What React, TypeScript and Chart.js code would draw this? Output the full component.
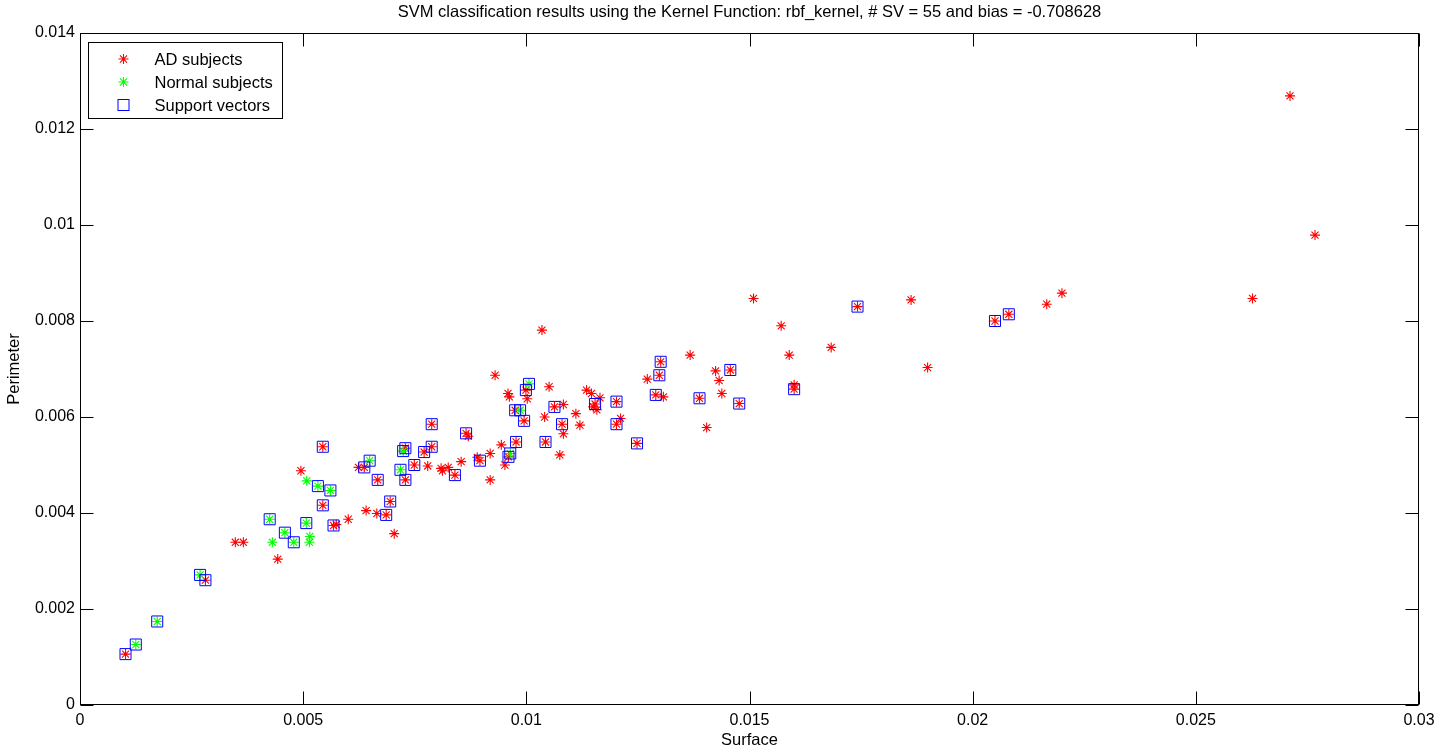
import React, { useEffect, useRef } from 'react';
import { Chart, registerables } from 'chart.js';

Chart.register(...registerables);

const FONT = "'Liberation Sans', Arial, Helvetica, sans-serif";
const TITLE = 'SVM classification results using the Kernel Function: rbf_kernel, # SV = 55 and bias = -0.708628';
const X_LABEL = 'Surface';
const Y_LABEL = 'Perimeter';
const LEGEND_LABELS = ['AD subjects', 'Normal subjects', 'Support vectors'];

const xTicks = [0, 0.005, 0.01, 0.015, 0.02, 0.025, 0.03];
const yTicks = [0, 0.002, 0.004, 0.006, 0.008, 0.01, 0.012, 0.014];

// AD subjects (red asterisks)
const adX = [
  0.00102, 0.00281, 0.00348, 0.00366, 0.00443, 0.00544, 0.00568, 0.00574, 0.00601, 0.00641,
  0.00665, 0.00544, 0.00495, 0.00695, 0.00686, 0.00704, 0.00667, 0.00624, 0.00637, 0.00729,
  0.00729, 0.00749, 0.00779, 0.00771, 0.00788, 0.00788, 0.00809, 0.00825, 0.00812, 0.00840,
  0.00854, 0.00865, 0.00870, 0.00896, 0.00890, 0.00919, 0.00919, 0.01035, 0.00930, 0.00959,
  0.00962, 0.00999, 0.01002, 0.01051, 0.00975, 0.00995, 0.01041, 0.01063, 0.01083, 0.01080,
  0.01083, 0.01111, 0.01120, 0.01075, 0.01043, 0.00977, 0.00960, 0.00944, 0.00952, 0.01135,
  0.01146, 0.01165, 0.01154, 0.01150, 0.01158, 0.01202, 0.01202, 0.01211, 0.01248, 0.01290,
  0.01307, 0.01271, 0.01298, 0.01301, 0.01367, 0.01388, 0.01509, 0.01742, 0.01571, 0.01683,
  0.01589, 0.01424, 0.01457, 0.01432, 0.01438, 0.01477, 0.01404, 0.01600, 0.01600, 0.01862,
  0.01899, 0.02050, 0.02081, 0.02166, 0.02200, 0.02711, 0.02767, 0.02627,
];
const adY = [
  0.00106, 0.00260, 0.00339, 0.00339, 0.00304, 0.00416, 0.00374, 0.00376, 0.00387, 0.00405,
  0.00399, 0.00538, 0.00488, 0.00424, 0.00396, 0.00357, 0.00469, 0.00495, 0.00495, 0.00535,
  0.00469, 0.00500, 0.00498, 0.00527, 0.00538, 0.00585, 0.00493, 0.00495, 0.00488, 0.00479,
  0.00507, 0.00566, 0.00560, 0.00509, 0.00516, 0.00524, 0.00469, 0.00781, 0.00687, 0.00649,
  0.00642, 0.00656, 0.00638, 0.00663, 0.00614, 0.00592, 0.00600, 0.00621, 0.00626, 0.00585,
  0.00565, 0.00607, 0.00583, 0.00521, 0.00548, 0.00548, 0.00517, 0.00542, 0.00500, 0.00656,
  0.00649, 0.00640, 0.00627, 0.00621, 0.00615, 0.00632, 0.00585, 0.00597, 0.00545, 0.00646,
  0.00642, 0.00679, 0.00687, 0.00715, 0.00729, 0.00639, 0.00847, 0.00830, 0.00790, 0.00745,
  0.00729, 0.00696, 0.00698, 0.00676, 0.00649, 0.00628, 0.00578, 0.00658, 0.00667, 0.00844,
  0.00703, 0.00800, 0.00814, 0.00835, 0.00858, 0.01269, 0.00979, 0.00847,
];
// 1 = this AD subject is a support vector
const adIsSV = [
  1, 1, 0, 0, 0, 1, 1, 0, 0, 0,
  0, 1, 0, 1, 1, 0, 1, 0, 1, 1,
  1, 1, 0, 1, 1, 1, 0, 0, 0, 1,
  0, 1, 0, 1, 0, 0, 0, 0, 0, 0,
  0, 1, 0, 0, 1, 1, 0, 1, 0, 1,
  0, 0, 0, 0, 1, 1, 1, 0, 0, 0,
  0, 0, 1, 0, 0, 1, 1, 0, 1, 1,
  0, 0, 1, 1, 0, 1, 0, 1, 0, 0,
  0, 0, 1, 0, 0, 1, 0, 1, 0, 0,
  0, 1, 1, 0, 0, 0, 0, 0,
];

// Normal subjects (green asterisks)
const normalX = [
  0.00125, 0.00173, 0.00269, 0.00431, 0.00425, 0.00459, 0.00479, 0.00507, 0.00515, 0.00514,
  0.00533, 0.00561, 0.00508, 0.00649, 0.00724, 0.00718, 0.01006, 0.00986, 0.00964,
];
const normalY = [
  0.00126, 0.00174, 0.00271, 0.00339, 0.00387, 0.00359, 0.00339, 0.00379, 0.00351, 0.00339,
  0.00456, 0.00447, 0.00467, 0.00509, 0.00529, 0.00490, 0.00669, 0.00614, 0.00524,
];
const normalIsSV = [
  1, 1, 1, 0, 1, 1, 1, 1, 0, 0,
  1, 1, 0, 1, 1, 1, 1, 1, 1,
];

const RED = '#ff0000';
const GREEN = '#00ff00';
const BLUE = '#0000ff';
const STAR_R = 5;
const TEXT_SIZE = 16.5;

const fmt = (v: number) => String(parseFloat(Number(v).toFixed(6)));

const axesBoxPlugin = {
  id: 'axesBox',
  beforeDatasetsDraw(chart: any) {
    const { ctx, chartArea: a, scales } = chart;
    ctx.save();
    ctx.strokeStyle = '#000';
    ctx.lineWidth = 1;
    const L = Math.round(a.left) + 0.5;
    const R = Math.round(a.right) - 0.5;
    const T = Math.round(a.top) + 0.5;
    const B = Math.round(a.bottom) - 0.5;
    const len = 13;
    ctx.beginPath();
    scales.x.ticks.forEach((t: any) => {
      const px = Math.round(scales.x.getPixelForValue(t.value)) + 0.5;
      ctx.moveTo(px, B);
      ctx.lineTo(px, B - len);
      ctx.moveTo(px, T);
      ctx.lineTo(px, T + len);
    });
    scales.y.ticks.forEach((t: any) => {
      const py = Math.round(scales.y.getPixelForValue(t.value)) + 0.5;
      ctx.moveTo(L, py);
      ctx.lineTo(L + len, py);
      ctx.moveTo(R, py);
      ctx.lineTo(R - len, py);
    });
    ctx.stroke();
    ctx.strokeRect(L, T, R - L, B - T);
    ctx.restore();
  },
};

function drawStar(ctx: CanvasRenderingContext2D, x: number, y: number, r: number, color: string) {
  const d = r * Math.SQRT1_2;
  ctx.save();
  ctx.strokeStyle = color;
  ctx.lineWidth = 1.1;
  ctx.beginPath();
  ctx.moveTo(x - r, y);
  ctx.lineTo(x + r, y);
  ctx.moveTo(x, y - r);
  ctx.lineTo(x, y + r);
  ctx.moveTo(x - d, y - d);
  ctx.lineTo(x + d, y + d);
  ctx.moveTo(x - d, y + d);
  ctx.lineTo(x + d, y - d);
  ctx.stroke();
  ctx.restore();
}

const legendPlugin = {
  id: 'matlabLegend',
  afterDraw(chart: any) {
    const { ctx, chartArea: a } = chart;
    const bx = Math.round(a.left) + 8.5;
    const by = Math.round(a.top) + 9.5;
    const bw = 194;
    const bh = 76;
    ctx.save();
    ctx.fillStyle = '#fff';
    ctx.fillRect(bx, by, bw, bh);
    ctx.strokeStyle = '#000';
    ctx.lineWidth = 1;
    ctx.strokeRect(bx, by, bw, bh);
    const rows = [by + 16.5, by + 39.5, by + 62.5];
    const mx = bx + 35;
    const tx = bx + 66;
    ctx.font = `${TEXT_SIZE}px ${FONT}`;
    ctx.fillStyle = '#000';
    ctx.textBaseline = 'middle';
    ctx.textAlign = 'left';
    drawStar(ctx, mx, rows[0], STAR_R, RED);
    drawStar(ctx, mx, rows[1], STAR_R, GREEN);
    ctx.strokeStyle = BLUE;
    ctx.lineWidth = 1;
    ctx.strokeRect(mx - 5.5, rows[2] - 5.5, 11, 11);
    LEGEND_LABELS.forEach((lab, i) => {
      ctx.fillText(lab, tx, rows[i] + 1);
    });
    ctx.restore();
  },
};

export default function App() {
  const ref = useRef<HTMLCanvasElement | null>(null);

  useEffect(() => {
    const canvas = ref.current;
    if (!canvas) return;

    const adData = adX.map((x, i) => ({ x, y: adY[i] }));
    const normalData = normalX.map((x, i) => ({ x, y: normalY[i] }));
    const svData = [
      ...adX.map((x, i) => ({ x, y: adY[i], s: adIsSV[i] })),
      ...normalX.map((x, i) => ({ x, y: normalY[i], s: normalIsSV[i] })),
    ]
      .filter((p) => p.s === 1)
      .map((p) => ({ x: p.x, y: p.y }));

    const chart = new Chart(canvas, {
      type: 'scatter',
      data: {
        datasets: [
          {
            label: LEGEND_LABELS[0],
            data: adData,
            pointStyle: 'star',
            pointRadius: STAR_R,
            borderColor: RED,
            backgroundColor: RED,
            borderWidth: 1.1,
            order: 3,
          },
          {
            label: LEGEND_LABELS[1],
            data: normalData,
            pointStyle: 'star',
            pointRadius: STAR_R,
            borderColor: GREEN,
            backgroundColor: GREEN,
            borderWidth: 1.1,
            order: 2,
          },
          {
            label: LEGEND_LABELS[2],
            data: svData,
            pointStyle: 'rect',
            pointRadius: 7.8,
            borderColor: BLUE,
            backgroundColor: 'rgba(0,0,0,0)',
            borderWidth: 1,
            order: 1,
          },
        ],
      },
      options: {
        animation: false,
        responsive: false,
        events: [],
        layout: { padding: { left: 0, right: 33, top: 0, bottom: 0 } },
        plugins: {
          legend: { display: false },
          tooltip: { enabled: false },
          title: {
            display: true,
            text: TITLE,
            fullSize: false,
            color: '#000',
            font: { family: FONT, size: TEXT_SIZE, weight: 'normal', lineHeight: 1.2 },
            padding: { top: 3, bottom: 10.2 },
          },
        },
        scales: {
          x: {
            type: 'linear',
            position: 'bottom',
            min: xTicks[0],
            max: xTicks[xTicks.length - 1],
            grid: { display: false, drawTicks: false },
            border: { display: false },
            afterBuildTicks: (s: any) => {
              s.ticks = xTicks.map((v) => ({ value: v }));
            },
            ticks: {
              padding: 6,
              color: '#000',
              maxRotation: 0,
              autoSkip: false,
              font: { family: FONT, size: 16 },
              callback: (v: any) => fmt(v),
            },
            title: {
              display: true,
              text: X_LABEL,
              color: '#000',
              font: { family: FONT, size: TEXT_SIZE },
              padding: { top: 0, bottom: 2.2 },
            },
            afterFit: (s: any) => {
              s.height = 48;
            },
          },
          y: {
            type: 'linear',
            position: 'left',
            min: yTicks[0],
            max: yTicks[yTicks.length - 1],
            grid: { display: false, drawTicks: false },
            border: { display: false },
            afterBuildTicks: (s: any) => {
              s.ticks = yTicks.map((v) => ({ value: v }));
            },
            ticks: {
              padding: 5,
              color: '#000',
              autoSkip: false,
              font: { family: FONT, size: 16 },
              callback: (v: any) => fmt(v),
            },
            title: {
              display: true,
              text: Y_LABEL,
              color: '#000',
              font: { family: FONT, size: TEXT_SIZE },
              padding: { top: 4.2, bottom: 0 },
            },
            afterFit: (s: any) => {
              s.width = 80;
            },
          },
        },
      },
      plugins: [axesBoxPlugin, legendPlugin],
    } as any);

    return () => {
      chart.destroy();
    };
  }, []);

  return (
    <div
      style={{
        position: 'fixed',
        left: 0,
        top: 0,
        width: 1452,
        height: 753,
        background: '#fff',
      }}
    >
      <canvas ref={ref} width={1452} height={753} style={{ display: 'block' }} />
    </div>
  );
}
